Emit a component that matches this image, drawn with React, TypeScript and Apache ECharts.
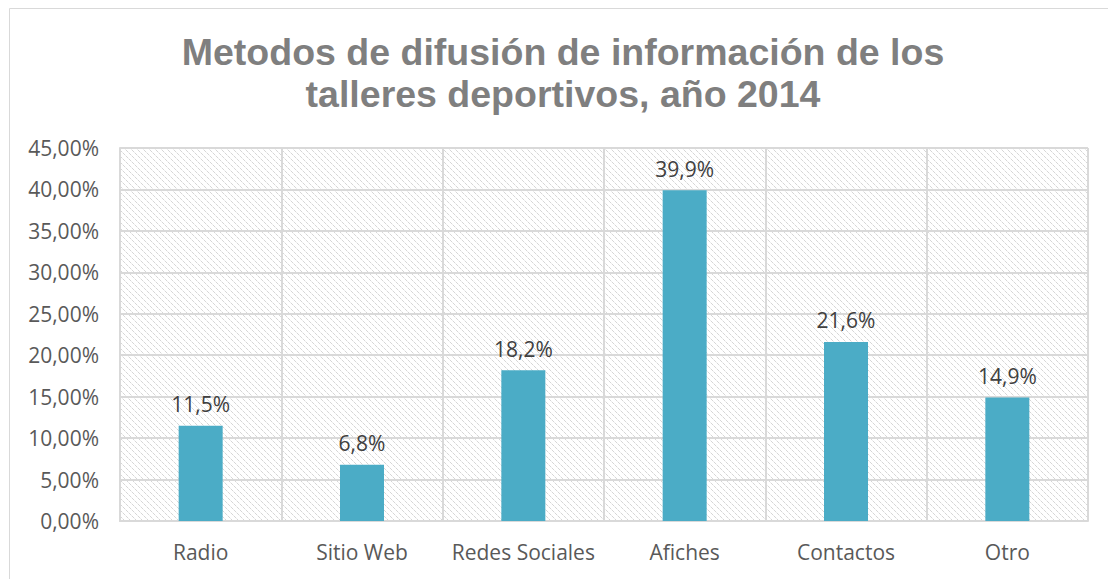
import React, { useEffect, useRef } from "react";
import * as echarts from "echarts";

const categories = ["Radio", "Sitio Web", "Redes Sociales", "Afiches", "Contactos", "Otro"];
const values = [11.5, 6.8, 18.2, 39.9, 21.6, 14.9];
const titleText = "Metodos de difusión de información de los\ntalleres deportivos, año 2014";

function makeHatch(): HTMLCanvasElement {
  const n = 6;
  const c = document.createElement("canvas");
  c.width = n;
  c.height = n;
  const ctx = c.getContext("2d")!;
  ctx.fillStyle = "#ffffff";
  ctx.fillRect(0, 0, n, n);
  for (let i = 0; i < n; i++) {
    ctx.fillStyle = i % 3 === 2 ? "#ececec" : "#d6d6d6";
    ctx.fillRect(i, i, 1, 1);
  }
  return c;
}

const labelFont = "'Open Sans', 'Noto Sans', sans-serif";

export default function App() {
  const ref = useRef<HTMLDivElement>(null);
  useEffect(() => {
    const chart = echarts.init(ref.current!, null, { renderer: "svg" });
    const hatch = makeHatch();
    chart.setOption({
      animation: false,
      backgroundColor: "#ffffff",
      title: {
        text: titleText,
        left: 558,
        textAlign: "center",
        top: 26,
        textStyle: {
          fontFamily: "Liberation Sans, Arial, sans-serif",
          fontWeight: "bold",
          fontSize: 37.5,
          lineHeight: 42,
          color: "#7f7f7f",
        },
      },
      graphic: [
        {
          type: "rect",
          shape: { x: 9.5, y: 8.5, width: 1110, height: 580 },
          style: { fill: "none", stroke: "#d9d9d9", lineWidth: 1 },
          silent: true,
        },
      ],
      grid: {
        left: 120,
        right: 20,
        top: 148,
        bottom: 58,
        show: true,
        backgroundColor: { image: hatch, repeat: "repeat" },
        borderWidth: 0,
      },
      xAxis: {
        type: "category",
        data: categories,
        axisLine: { show: true, lineStyle: { color: "#d9d9d9", width: 2 } },
        axisTick: { show: false, interval: 0 },
        splitLine: { show: true, interval: 0, lineStyle: { color: "#d9d9d9", width: 2 } },
        axisLabel: {
          interval: 0,
          margin: 20,
          fontFamily: labelFont,
          fontSize: 21,
          color: "#595959",
        },
      },
      yAxis: {
        type: "value",
        min: 0,
        max: 45,
        interval: 5,
        axisLine: { show: true, lineStyle: { color: "#d9d9d9", width: 2 } },
        axisTick: { show: false },
        splitLine: { show: true, lineStyle: { color: "#d9d9d9", width: 2 } },
        axisLabel: {
          margin: 21,
          fontFamily: labelFont,
          fontSize: 21,
          color: "#595959",
          formatter: (v: number) => v.toFixed(2).replace(".", ",") + "%",
        },
      },
      series: [
        {
          type: "bar",
          data: values,
          barWidth: 44,
          itemStyle: { color: "#4bacc6" },
          label: {
            show: true,
            position: "top",
            distance: 11,
            fontFamily: labelFont,
            fontSize: 21,
            color: "#404040",
            formatter: (p: any) => p.value.toFixed(1).replace(".", ",") + "%",
          },
        },
      ],
    });
    return () => chart.dispose();
  }, []);
  return (
    <div
      ref={ref}
      style={{ position: "fixed", left: 0, top: 0, width: 1108, height: 579 }}
    />
  );
}
